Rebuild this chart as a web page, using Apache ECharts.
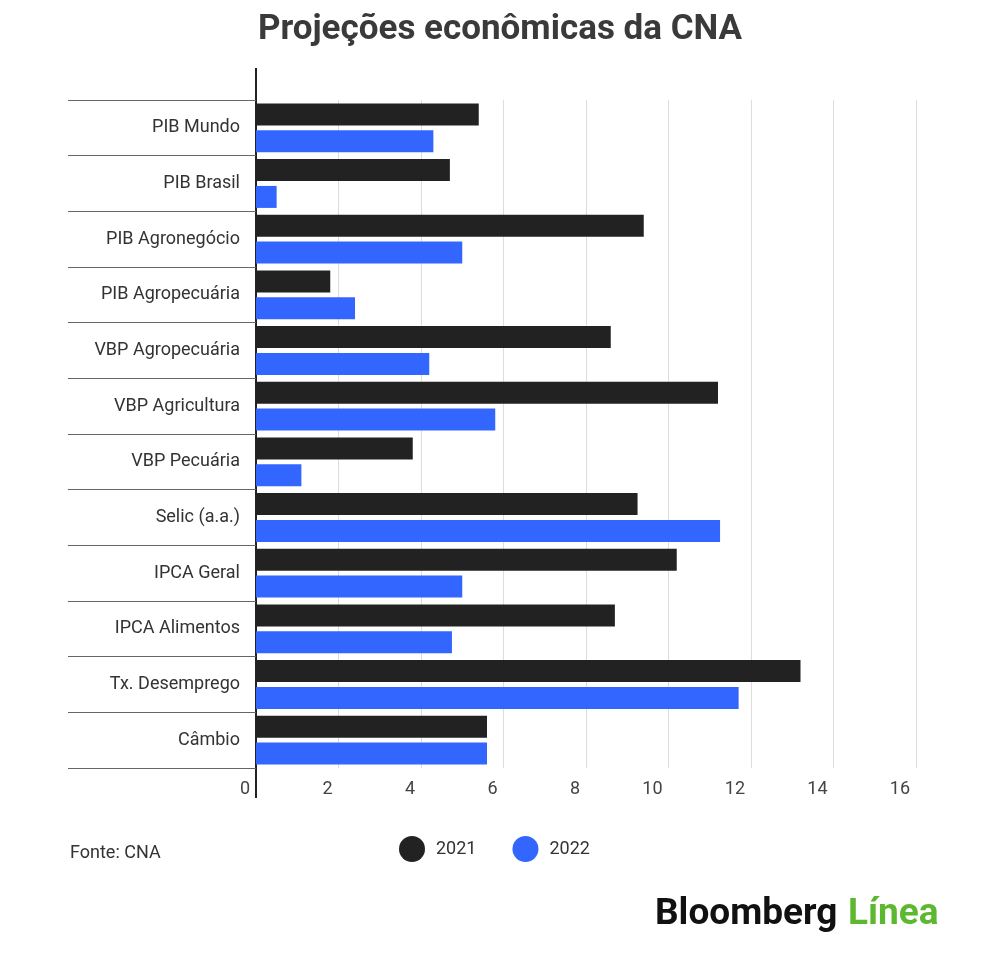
<!DOCTYPE html>
<html>
<head>
<meta charset="utf-8">
<script src="https://cdn.jsdelivr.net/npm/echarts@6/dist/echarts.min.js"></script>
<style>body{margin:0;background:#fff}#chart{width:1000px;height:967px}</style>
</head>
<body>
<div id="chart"></div>
<script>
var categories = ['PIB Mundo','PIB Brasil','PIB Agronegócio','PIB Agropecuária','VBP Agropecuária','VBP Agricultura','VBP Pecuária','Selic (a.a.)','IPCA Geral','IPCA Alimentos','Tx. Desemprego','Câmbio'];
var values2021 = [5.4, 4.7, 9.4, 1.8, 8.6, 11.2, 3.8, 9.25, 10.2, 8.7, 13.2, 5.6];
var values2022 = [4.3, 0.5, 5.0, 2.4, 4.2, 5.8, 1.1, 11.25, 5.0, 4.75, 11.7, 5.6];

var chart = echarts.init(document.getElementById('chart'));
chart.setOption({
  textStyle: {fontFamily: 'Roboto'},
  title: {text: 'Projeções econômicas da CNA', left: 'center', top: 8,
    textStyle: {fontSize: 35, fontWeight: 'bold', color: '#3a3a3a', fontFamily: 'Roboto'}},
  legend: {bottom: 100, left: 394, icon: 'circle', itemWidth: 26, itemHeight: 26, itemGap: 36,
    textStyle: {fontSize: 18, color: '#333', padding: [0, 0, 0, 6]}, data: ['2021', '2022']},
  grid: {left: 256, right: 84, top: 100, bottom: 199},
  xAxis: {type: 'value', min: 0, max: 16, interval: 2,
    axisLabel: {fontSize: 18, color: '#444', align: 'right', padding: [0, 6, 0, 0], margin: 12},
    splitLine: {lineStyle: {color: '#ddd'}}, axisLine: {show: false}, axisTick: {show: false}},
  yAxis: {type: 'category', data: categories, inverse: true,
    axisLine: {show: true, lineStyle: {color: '#222', width: 2}},
    axisTick: {show: true, interval: 0, length: 188, lineStyle: {color: '#666', width: 1}},
    axisLabel: {fontSize: 18, color: '#333', margin: 16, padding: [5, 0, 0, 0]}},
  series: [
    {name: '2021', type: 'bar', data: values2021, barWidth: 22, barGap: '22%', itemStyle: {color: '#222222'}},
    {name: '2022', type: 'bar', data: values2022, barWidth: 22, itemStyle: {color: '#3366ff'}}
  ],
  graphic: [
    {type: 'line', shape: {x1: 256, y1: 68, x2: 256, y2: 798}, style: {stroke: '#222', lineWidth: 2}},
    {type: 'text', left: 70, top: 844, style: {text: 'Fonte: CNA', fontSize: 18, fill: '#333', fontFamily: 'Roboto'}},
    {type: 'text', left: 655, top: 896, style: {text: 'Bloomberg', fontSize: 37, fontWeight: 'bold', fill: '#111', fontFamily: 'Roboto'}},
    {type: 'text', left: 848, top: 896, style: {text: 'Línea', fontSize: 37, fontWeight: 'bold', fill: '#5cb82e', fontFamily: 'Roboto'}}
  ]
});
</script>
</body>
</html>
